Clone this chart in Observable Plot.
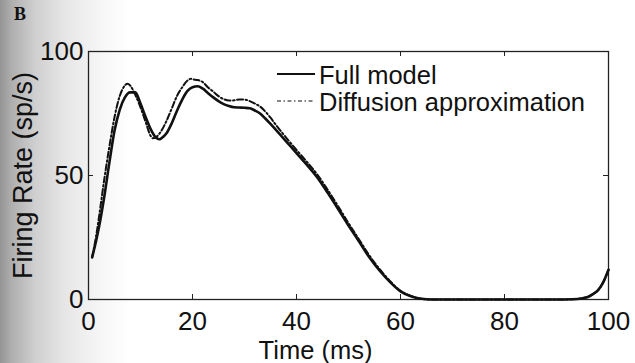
<!DOCTYPE html>
<html><head><meta charset="utf-8">
<script src="https://cdn.jsdelivr.net/npm/d3@7"></script>
<script src="https://cdn.jsdelivr.net/npm/@observablehq/plot@0.6"></script>
<style>
html,body{margin:0;padding:0;width:635px;height:363px;overflow:hidden;background:#fff;}
#wrap{position:relative;width:635px;height:363px;background:linear-gradient(to right,#949494 0px,#afafaf 12px,#cfcfcf 35px,#e6e6e6 65px,#f6f6f6 100px,#fff 130px);}
#panel{position:absolute;left:14px;top:4px;font:bold 18px "Liberation Serif",serif;color:#111;z-index:2;}
#chart{position:absolute;left:0;top:0;z-index:1;}
</style></head><body><div id="wrap"><div id="chart"></div><div id="panel">B</div></div>
<script>
const timeFull = [0.7,1.5,2,3,4,5,6,7,8,9,10,11,12,13,13.6,14,15,16,17,18,19,20,21,22,23,24,25,26,27,28,29,30,31,32,33,34,35,36,38,40,42,44,46,48,50,52,54,56,58,60,62,64,66,70,80,90,93,95,96,97,98,99,100];
const rateFull = [17,24,29,41,55,68,76.5,81.5,83.5,83.5,79,73.5,68.5,65.2,64.6,65,67,71,76,80.5,84,85.6,86,85,83.2,81.5,80,78.8,78,77.5,77.4,77.3,77.1,76.2,75,73,70.8,68.5,63.8,59,54.3,49.2,43,36.5,29.8,23.5,17,11.6,7,3.3,1.3,0.3,0,0,0,0,0.1,0.5,1,2.2,3.8,7,12];
const timeDiff = [0.7,1.5,2,3,4,5,6,7,7.5,8,9,10,11,12,12.4,13,14,15,16,17,18,19,19.7,20,21,22,23,24,25,26,27,28,29,30,31,32,33,34,35,36,38,40,42,44,46,48,50,52,54,56,58,60,62,64,66,70,80,90,93,95,96,97,98,99,100];
const rateDiff = [17,26,33,48,61.5,73.5,82,86.3,87,86.3,82.5,77.5,71.5,65.8,65,65.5,68,72,77,82,85.5,88.2,89,88.8,88.5,87.6,85.5,83.8,82,80.8,80.2,80.3,80.6,80.6,80,79,77.8,75.8,73.3,70.5,65.3,60.3,55.5,50.4,44.2,37.6,30.8,24.3,17.8,12.2,7.4,3.5,1.4,0.3,0,0,0,0,0.1,0.5,1,2.2,3.8,7,12];
const xTicks = [0,20,40,60,80,100];
const yTicks = [0,50,100];
const seriesNames = ["Full model","Diffusion approximation"];
const xLabel = "Time (ms)";
const yLabel = "Firing Rate (sp/s)";

const W = 635, H = 363, mL = 88, mR = 27, mT = 51, mB = 64;
const frameW = W - mL - mR, frameH = H - mT - mB, tickLen = 5;
const ink = "#111";
const dashDot = "6,2.5,1.6,2.5";
const font = "'Liberation Sans', Arial, sans-serif";

const full = timeFull.map((t, i) => ({t, r: rateFull[i]}));
const diff = timeDiff.map((t, i) => ({t, r: rateDiff[i]}));

function legend() {
  const g = d3.create("svg:g").attr("font-family", font).attr("font-size", 25.5)
    .attr("fill", ink).attr("text-anchor", "start");
  const x0 = mL + 189, x1 = mL + 227, tx = mL + 231;
  const rows = [{y: 74, dash: null, w: 1.8}, {y: 101, dash: "4,2.5,1.5,2.5", w: 1.2}];
  rows.forEach((row, i) => {
    g.append("line").attr("x1", x0).attr("x2", x1).attr("y1", row.y).attr("y2", row.y)
      .attr("stroke", ink).attr("stroke-width", row.w).attr("stroke-dasharray", row.dash);
    g.append("text").attr("x", tx).attr("y", row.y + 10).attr("text-anchor", "start").text(seriesNames[i]);
  });
  return g.node();
}

const chart = Plot.plot({
  width: W, height: H,
  marginLeft: mL, marginRight: mR, marginTop: mT, marginBottom: mB,
  style: {background: "transparent", fontFamily: font, fontSize: "26px", color: ink},
  x: {domain: [0, 100], ticks: xTicks},
  y: {domain: [0, 100], ticks: yTicks},
  marks: [
    Plot.axisX({ticks: xTicks, tickSize: 0, tickPadding: 12, label: null, fontSize: 26}),
    Plot.axisY({ticks: yTicks, tickSize: 0, tickPadding: 5, label: null, fontSize: 26}),
    Plot.tickX(xTicks, {x: d => d, insetTop: frameH - tickLen, stroke: "#222", strokeWidth: 1}),
    Plot.tickX(xTicks, {x: d => d, insetBottom: frameH - tickLen, stroke: "#222", strokeWidth: 1}),
    Plot.tickY(yTicks, {y: d => d, insetRight: frameW - tickLen, stroke: "#222", strokeWidth: 1}),
    Plot.tickY(yTicks, {y: d => d, insetLeft: frameW - tickLen, stroke: "#222", strokeWidth: 1}),
    Plot.frame({stroke: "#222", strokeWidth: 1.3}),
    Plot.line(diff, {x: "t", y: "r", curve: "monotone-x", stroke: ink, strokeWidth: 2, strokeDasharray: dashDot}),
    Plot.line(full, {x: "t", y: "r", curve: "monotone-x", stroke: ink, strokeWidth: 2.6}),
    Plot.text([yLabel], {text: d => d, frameAnchor: "left", rotate: -90, dx: -65, textAnchor: "middle", lineAnchor: "middle", fontSize: 27, fill: ink}),
    Plot.text([xLabel], {text: d => d, frameAnchor: "bottom", dx: -33, dy: 51, textAnchor: "middle", lineAnchor: "middle", fontSize: 25.5, fill: ink}),
    legend
  ]
});
document.getElementById("chart").appendChild(chart);
</script>
</body></html>
